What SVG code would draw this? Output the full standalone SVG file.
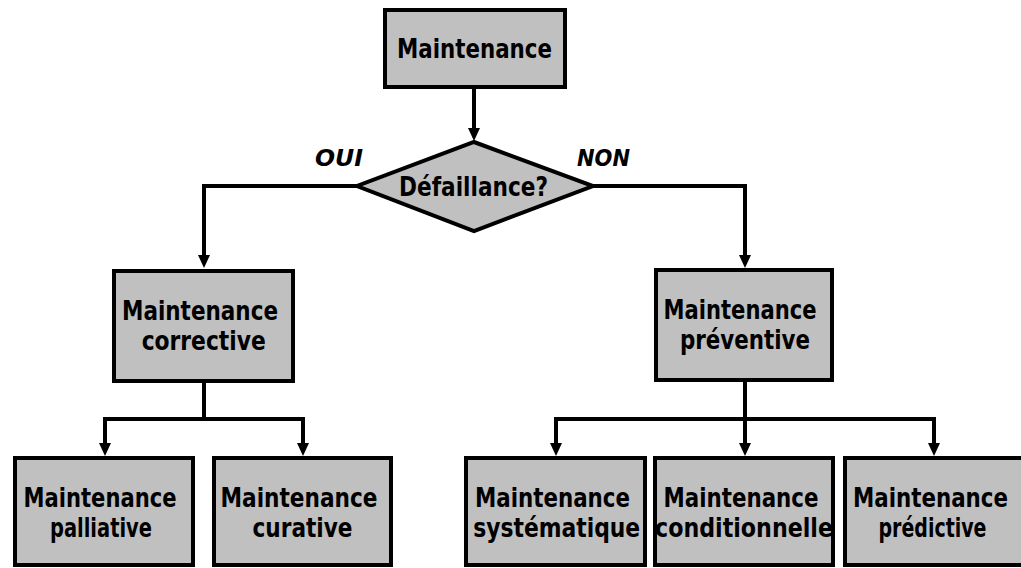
<svg xmlns="http://www.w3.org/2000/svg" width="1021" height="568" viewBox="0 0 1021 568">
<style>
.box{fill:#c0c0c0;stroke:#000;stroke-width:4}
.t{font-family:"DejaVu Sans Condensed","DejaVu Sans",sans-serif;font-weight:bold;font-size:27px;fill:#000;text-anchor:middle}
.lbl{font-family:"DejaVu Sans Condensed","DejaVu Sans",sans-serif;font-weight:bold;font-style:italic;font-size:23px;fill:#000;text-anchor:middle}
.c{fill:none;stroke:#000;stroke-width:4}
</style>
<defs>
<marker id="ah" markerUnits="userSpaceOnUse" markerWidth="13" markerHeight="12" refX="8" refY="6" orient="auto">
<path d="M0,0 L13,6 L0,12 Z" fill="#000"/>
</marker>
</defs>
<rect width="1021" height="568" fill="#fff"/>
<g id="connectors">
<path class="c" d="M474,89 V136" marker-end="url(#ah)"/>
<path class="c" d="M357,186 H204 V263" marker-end="url(#ah)"/>
<path class="c" d="M593,186 H745 V263" marker-end="url(#ah)"/>
<path class="c" d="M204,383 V419"/>
<path class="c" d="M103,419 H305"/>
<path class="c" d="M105,419 V451" marker-end="url(#ah)"/>
<path class="c" d="M303,419 V451" marker-end="url(#ah)"/>
<path class="c" d="M745,382 V451" marker-end="url(#ah)"/>
<path class="c" d="M554,419 H936"/>
<path class="c" d="M556,419 V451" marker-end="url(#ah)"/>
<path class="c" d="M934,419 V451" marker-end="url(#ah)"/>
</g>
<g id="maintenance">
<rect class="box" x="385" y="10" width="180" height="77"/>
<text class="t" x="474.5" y="58" textLength="155" lengthAdjust="spacingAndGlyphs">Maintenance</text>
</g>
<g id="defaillance">
<polygon class="box" points="474,142 593,186 474,231 357,186"/>
<text class="t" x="473.5" y="196" textLength="149" lengthAdjust="spacingAndGlyphs">Défaillance?</text>
</g>
<g id="label-oui">
<text class="lbl" x="339" y="166" textLength="48" lengthAdjust="spacingAndGlyphs">OUI</text>
</g>
<g id="label-non">
<text class="lbl" x="603.5" y="166" textLength="53" lengthAdjust="spacingAndGlyphs">NON</text>
</g>
<g id="corrective">
<rect class="box" x="114" y="271" width="179" height="110"/>
<text class="t" x="200" y="320" textLength="156" lengthAdjust="spacingAndGlyphs">Maintenance</text>
<text class="t" x="203.7" y="350" textLength="124" lengthAdjust="spacingAndGlyphs">corrective</text>
</g>
<g id="preventive">
<rect class="box" x="656" y="270" width="176" height="110"/>
<text class="t" x="740" y="319" textLength="153" lengthAdjust="spacingAndGlyphs">Maintenance</text>
<text class="t" x="745" y="349" textLength="130" lengthAdjust="spacingAndGlyphs">préventive</text>
</g>
<g id="palliative">
<rect class="box" x="15" y="458" width="178" height="107"/>
<text class="t" x="100" y="507" textLength="153" lengthAdjust="spacingAndGlyphs">Maintenance</text>
<text class="t" x="101" y="537" textLength="102" lengthAdjust="spacingAndGlyphs">palliative</text>
</g>
<g id="curative">
<rect class="box" x="214" y="458" width="177" height="107"/>
<text class="t" x="299" y="507" textLength="157" lengthAdjust="spacingAndGlyphs">Maintenance</text>
<text class="t" x="302.5" y="537" textLength="100" lengthAdjust="spacingAndGlyphs">curative</text>
</g>
<g id="systematique">
<rect class="box" x="466" y="458" width="179" height="107"/>
<text class="t" x="552.5" y="507" textLength="155" lengthAdjust="spacingAndGlyphs">Maintenance</text>
<text class="t" x="556.7" y="537" textLength="167" lengthAdjust="spacingAndGlyphs">systématique</text>
</g>
<g id="conditionnelle">
<rect class="box" x="655" y="458" width="178" height="107"/>
<text class="t" x="741" y="507" textLength="155" lengthAdjust="spacingAndGlyphs">Maintenance</text>
<text class="t" x="744" y="537" textLength="178" lengthAdjust="spacingAndGlyphs">conditionnelle</text>
</g>
<g id="predictive">
<rect class="box" x="845" y="458" width="180" height="107"/>
<text class="t" x="930.5" y="507" textLength="155" lengthAdjust="spacingAndGlyphs">Maintenance</text>
<text class="t" x="932.5" y="537" textLength="108" lengthAdjust="spacingAndGlyphs">prédictive</text>
</g>
</svg>
